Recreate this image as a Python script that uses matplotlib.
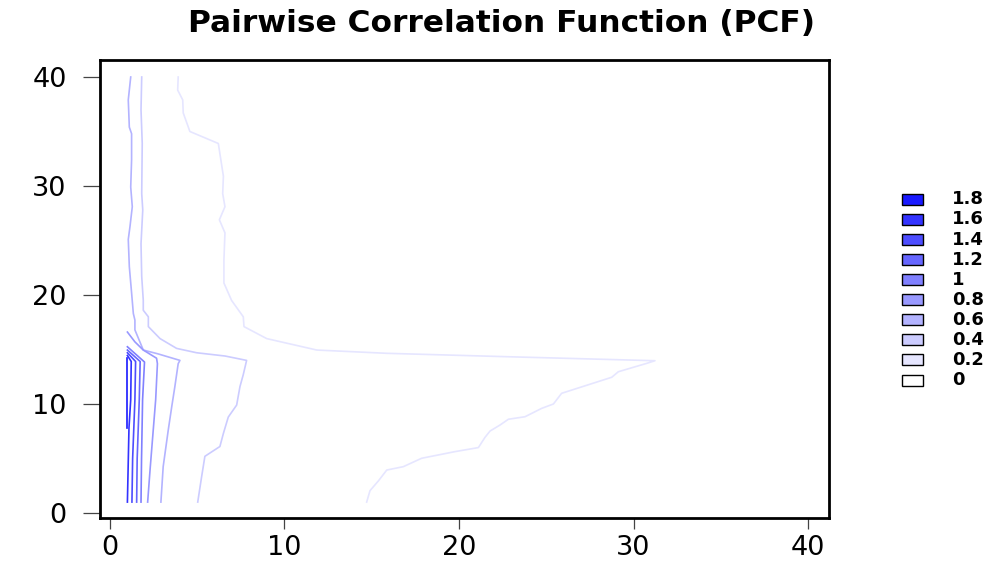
import numpy as np
import matplotlib
matplotlib.use("Agg")
import matplotlib.pyplot as plt
from matplotlib.patches import Rectangle

# contour levels of the pair correlation surface
levels = [0, 0.2, 0.4, 0.6, 0.8, 1.0, 1.2, 1.4, 1.6, 1.8]

# traced iso-lines, one per level (x = distance, y = distance)
c02_x = [14.71, 14.9, 15.38, 15.86, 16.81, 17.86, 19.77, 21.11, 21.49, 21.78, 22.35, 22.83, 23.78,
         24.74, 25.41, 25.88, 27.79, 28.75, 29.13, 30.76, 31.23, 22.7, 15.86, 11.85, 8.98, 7.68,
         7.64, 6.97, 6.53, 6.53, 6.59, 6.27, 6.59, 6.46, 6.5, 6.21, 4.58, 4.2, 4.17, 3.88, 3.91]
c02_y = [1.0, 2.05, 2.94, 3.94, 4.25, 5.02, 5.63, 6.0, 6.94, 7.52, 8.07, 8.6, 8.83,
         9.6, 10.0, 10.98, 11.96, 12.45, 12.96, 13.73, 13.97, 14.34, 14.65, 14.95, 16.0, 17.1,
         18.0, 19.5, 21.1, 23.2, 25.7, 26.9, 28.1, 29.3, 30.9, 33.9, 35.0, 36.7, 37.9, 38.8, 40.0]

c04_x = [5.03, 5.25, 5.44, 6.3, 6.5, 6.78, 7.26, 7.45, 7.64, 7.83, 6.6, 4.97, 3.82, 2.87, 2.2,
         2.2, 1.91, 1.91, 1.82, 1.78, 1.88, 1.82, 1.85, 1.78, 1.82]
c04_y = [1.0, 3.3, 5.2, 6.1, 7.3, 8.8, 9.9, 11.6, 12.7, 14.0, 14.4, 14.7, 15.1, 16.0, 17.1,
         18.0, 18.6, 19.5, 21.7, 24.7, 27.8, 29.3, 33.9, 37.0, 40.0]

c06_x = [2.92, 3.05, 3.34, 3.54, 3.72, 3.91, 4.01, 2.75, 1.91, 1.43, 1.43, 1.34, 1.24, 1.11,
         1.05, 1.15, 1.28, 1.19, 1.24, 1.24, 1.11, 1.05, 1.19]
c06_y = [1.0, 4.25, 7.6, 9.75, 11.6, 13.7, 14.0, 14.6, 14.95, 16.8, 17.7, 18.3, 20.2, 22.6,
         25.1, 26.3, 28.1, 29.9, 32.4, 34.8, 35.4, 37.9, 40.0]

c08_x = [2.16, 2.3, 2.45, 2.62, 2.72, 2.67, 1.91, 1.43, 1.0]
c08_y = [1.0, 4.0, 7.0, 10.4, 13.7, 14.2, 14.95, 15.7, 16.6]

c10_x = [1.78, 1.81, 1.87, 1.98, 1.0]
c10_y = [1.0, 5.0, 10.4, 13.85, 15.25]

c12_x = [1.53, 1.56, 1.68, 1.73, 1.0]
c12_y = [1.0, 5.0, 10.4, 13.9, 14.95]

c14_x = [1.26, 1.3, 1.43, 1.47, 1.0]
c14_y = [1.0, 5.0, 10.4, 13.9, 14.7]

c16_x = [1.0, 1.04, 1.09, 1.19, 1.22, 1.0]
c16_y = [1.0, 4.0, 7.8, 10.4, 13.9, 14.45]

c18_x = [1.0, 1.0, 1.0, 1.0]
c18_y = [7.8, 11.0, 14.0, 14.2]

lines = [(0.2, c02_x, c02_y), (0.4, c04_x, c04_y), (0.6, c06_x, c06_y),
         (0.8, c08_x, c08_y), (1.0, c10_x, c10_y), (1.2, c12_x, c12_y),
         (1.4, c14_x, c14_y), (1.6, c16_x, c16_y), (1.8, c18_x, c18_y)]


def shade(v):
    # white -> blue ramp over 0..2
    c = 1 - v / 2.0
    return (c, c, 1.0)


W, H = 1002, 565
fig = plt.figure(figsize=(W / 100, H / 100), dpi=100)
ax = fig.add_axes([100 / W, 1 - 518 / H, 729 / W, 458 / H])

for v, xs, ys in lines:
    ax.plot(xs, ys, color=shade(v), lw=1.2, solid_joinstyle="round")

ax.set_xlim(-0.57, 41.2)
ax.set_ylim(-0.46, 41.56)
ax.set_xticks([0, 10, 20, 30, 40])
ax.set_yticks([0, 10, 20, 30, 40])
for s in ax.spines.values():
    s.set_linewidth(2.0)
    s.set_color("black")
ax.tick_params(axis="y", length=12, width=0.9, color="#444444", pad=12, labelsize=19.5)
ax.tick_params(axis="x", length=8, width=0.9, color="#444444", pad=4, labelsize=19.5)

fig.text(0.5, 1 - 24 / H, "Pairwise Correlation Function (PCF)", ha="center", va="center",
         fontsize=22.5, fontweight="bold")

# level key on the right
for i, v in enumerate(levels):
    yc = 380 - i * 20.07
    fig.patches.append(Rectangle((902 / W, 1 - (yc + 5.5) / H), 21 / W, 11 / H,
                                 transform=fig.transFigure, facecolor=shade(v),
                                 edgecolor="black", lw=1.0))
    fig.text(952 / W, 1 - yc / H, f"{v:g}", ha="left", va="center",
             fontsize=13, fontweight="bold")

fig.savefig("out.png", dpi=100)
